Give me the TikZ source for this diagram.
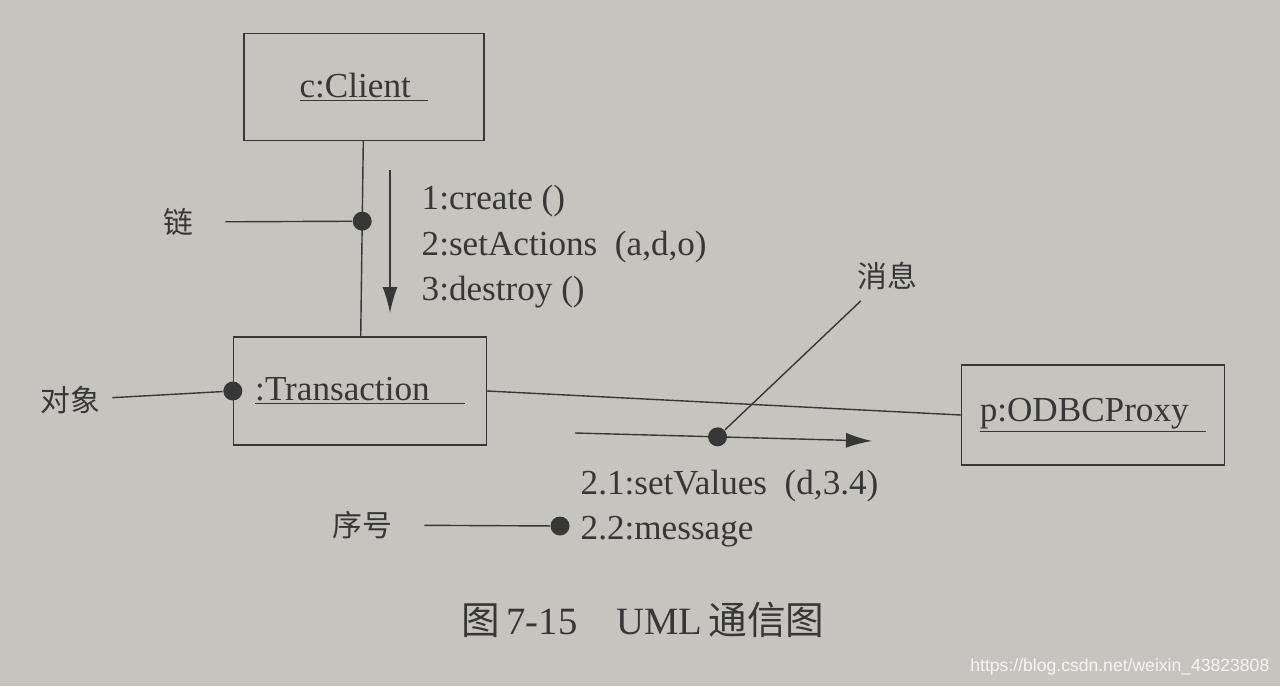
\documentclass[tikz,border=0pt]{standalone}
\usepackage{fontspec}
\setmainfont{Liberation Serif}
\newfontfamily\cjk{Noto Sans CJK SC}
\newfontfamily\wmfont{Liberation Sans}
\usetikzlibrary{arrows.meta}
\definecolor{paper}{RGB}{198,196,190}
\definecolor{ink}{RGB}{55,55,55}

\begin{document}
\begin{tikzpicture}[x=0.02cm,y=-0.02cm,line width=0.8pt,color=ink,
  obj/.style={draw,rectangle,inner sep=0pt,font=\fontsize{20}{24}\selectfont},
  msg/.style={anchor=west,inner sep=0pt,font=\fontsize{20}{24}\selectfont},
  note/.style={inner sep=1pt,font=\cjk\fontsize{17}{20}\selectfont},
  dot/.style={circle,fill=ink,inner sep=0pt,minimum size=0.38cm},
  tip/.style={-{Latex[length=0.52cm,width=0.3cm]}}]

\fill[paper] (0,0) rectangle (1280,686);
\useasboundingbox (0,0) rectangle (1280,686);

% objects
\node[obj,minimum width=4.8cm,minimum height=2.14cm](client) at (364,87) {\underline{c:Client\ \ }};
\node[obj,minimum width=5.06cm,minimum height=2.16cm](trans) at (360,391) {\underline{:Transaction\quad}};
\node[obj,minimum width=5.26cm,minimum height=2cm](proxy) at (1093,415) {\underline{p:ODBCProxy\ \ }};

% links
\draw(client)--node[dot,pos=0.41](linkdot){}(trans);
\draw(trans.east)--(proxy.west);

% messages
\coordinate(a1) at (390,170);
\coordinate(a2) at (390,313);
\draw[tip](a1)--(a2);
\node[msg](m1) at (421,201) {1:create ()};
\node[msg](m2) at (421,247) {2:setActions\ \ (a,d,o)};
\node[msg](m3) at (421,292) {3:destroy ()};

\coordinate(b1) at (575,433);
\coordinate(b2) at (872,441);
\draw[tip](b1)--node[dot,pos=0.48](msgdot){}(b2);
\node[msg](m21) at (580,486) {2.1:setValues\ \ (d,3.4)};
\node[msg](m22) at (580,532) {2.2:message};
\node[dot](seqdot) at (560,526) {};

% notes
\node[dot](objdot) at (trans.west) {};
\node[note](lian) at (178,222) {链};
\node[note](duixiang) at (70,400) {对象};
\node[note](xiaoxi) at (887,276) {消息};
\node[note](xuhao) at (362,525) {序号};
\draw[shorten <=0.6cm](lian)--(linkdot);
\draw[shorten <=0.2cm](duixiang)--(objdot);
\draw[shorten <=0.25cm](xiaoxi)--(msgdot);
\draw[shorten <=0.6cm](xuhao)--(seqdot);

% caption
\node[font=\fontsize{22}{26}\selectfont](caption) at (643,620) {{\cjk 图}\,7-15\quad UML\,{\cjk 通信图}};
\node[anchor=east,inner sep=0pt,font=\wmfont\fontsize{10}{12}\selectfont,text=white!85!paper](mark) at (1270,667) {https://blog.csdn.net/weixin\_43823808};
\end{tikzpicture}
\end{document}
